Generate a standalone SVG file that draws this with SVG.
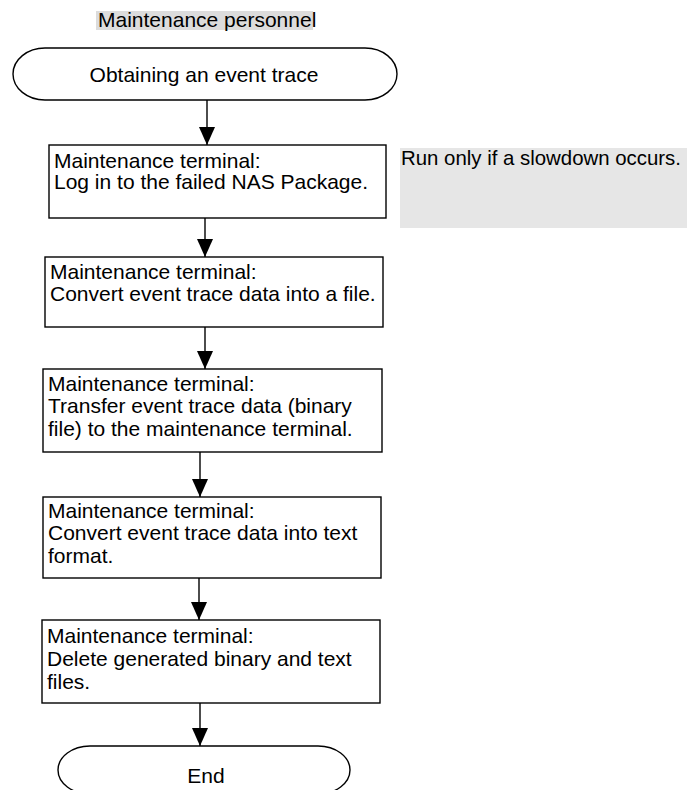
<svg xmlns="http://www.w3.org/2000/svg" width="687" height="790" viewBox="0 0 687 790">
<style>
text{font-family:"Liberation Sans",Arial,sans-serif;font-size:21px;fill:#000}
.note{font-size:20.4px}
.box{fill:#fff;stroke:#000;stroke-width:1.4}
.term{fill:#fff;stroke:#000;stroke-width:1.4}
.conn{stroke:#000;stroke-width:1.4;fill:none}
.mid{text-anchor:middle}
</style>
<defs>
<marker id="ah" markerWidth="18" markerHeight="16" refX="18" refY="8" orient="auto" markerUnits="userSpaceOnUse" viewBox="0 0 18 16">
<path d="M0,0 L18,8 L0,16 Z" fill="#000"/>
</marker>
</defs>
<g id="title">
<rect x="96" y="11" width="217" height="19" fill="#dcdcdc"/>
<text x="98" y="27">Maintenance personnel</text>
</g>
<g id="start">
<path class="term" d="M45,48 H365 A32,26 0 0 1 365,100 H45 A32,26 0 0 1 45,48 Z"/>
<text class="mid" x="204" y="82">Obtaining an event trace</text>
</g>
<g id="note">
<rect x="400" y="148" width="287" height="80" fill="#e6e6e6"/>
<text class="note" x="401" y="165">Run only if a slowdown occurs.</text>
</g>
<g id="step1">
<rect class="box" x="49" y="145" width="337" height="73"/>
<text x="54" y="168">Maintenance terminal:</text>
<text x="54" y="189">Log in to the failed NAS Package.</text>
</g>
<g id="step2">
<rect class="box" x="45" y="257" width="338" height="70"/>
<text x="50" y="279">Maintenance terminal:</text>
<text x="50" y="301">Convert event trace data into a file.</text>
</g>
<g id="step3">
<rect class="box" x="43" y="369" width="339" height="83"/>
<text x="48" y="391">Maintenance terminal:</text>
<text x="48" y="413">Transfer event trace data (binary</text>
<text x="48" y="436">file) to the maintenance terminal.</text>
</g>
<g id="step4">
<rect class="box" x="43" y="497" width="338" height="81"/>
<text x="48" y="518">Maintenance terminal:</text>
<text x="48" y="540">Convert event trace data into text</text>
<text x="48" y="563">format.</text>
</g>
<g id="step5">
<rect class="box" x="42" y="620" width="338" height="83"/>
<text x="47" y="643">Maintenance terminal:</text>
<text x="47" y="666">Delete generated binary and text</text>
<text x="47" y="689">files.</text>
</g>
<g id="end">
<path class="term" d="M90,746 H318 A32,24 0 0 1 318,794 H90 A32,24 0 0 1 90,746 Z"/>
<text class="mid" x="206" y="783">End</text>
</g>
<g id="connectors">
<line class="conn" x1="207" y1="100" x2="207" y2="145" marker-end="url(#ah)"/>
<line class="conn" x1="205" y1="218" x2="205" y2="257" marker-end="url(#ah)"/>
<line class="conn" x1="205" y1="327" x2="205" y2="369" marker-end="url(#ah)"/>
<line class="conn" x1="200" y1="452" x2="200" y2="497" marker-end="url(#ah)"/>
<line class="conn" x1="199" y1="578" x2="199" y2="620" marker-end="url(#ah)"/>
<line class="conn" x1="200" y1="703" x2="200" y2="746" marker-end="url(#ah)"/>
</g>
</svg>
